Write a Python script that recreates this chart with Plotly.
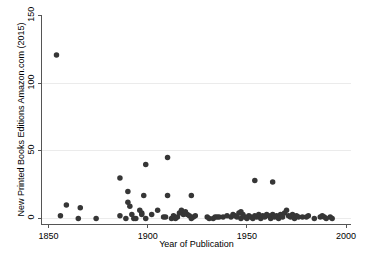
import plotly.graph_objects as go

years = [1854, 1856, 1859, 1865, 1866, 1874, 1886, 1886, 1889, 1890, 1890, 1891, 1892, 1893, 1894,
         1896, 1897, 1897, 1898, 1899, 1899, 1902, 1905, 1908, 1909, 1910, 1910, 1912, 1913, 1914,
         1915, 1916, 1917, 1918, 1919, 1920, 1921, 1922, 1922, 1923, 1924, 1930, 1931, 1933, 1934,
         1935, 1936, 1938, 1940, 1942, 1943, 1944, 1945, 1946, 1947, 1947, 1948, 1949, 1950, 1951,
         1952, 1953, 1954, 1954, 1955, 1956, 1957, 1958, 1959, 1960, 1961, 1962, 1963, 1963, 1964,
         1965, 1966, 1967, 1968, 1969, 1970, 1971, 1972, 1973, 1974, 1975, 1976, 1978, 1980, 1981,
         1984, 1987, 1988, 1989, 1990, 1992, 1993]
editions = [121, 2, 10, 0, 8, 0, 30, 2, 0, 20, 12, 9, 3, 0, 0,
            6, 4, 3, 17, 40, 0, 3, 6, 1, 1, 45, 17, 0, 2, 0,
            1, 4, 6, 3, 5, 3, 2, 17, 0, 1, 2, 1, 0, 0, 1,
            1, 1, 1, 2, 1, 3, 2, 1, 4, 5, 0, 3, 1, 0, 2,
            1, 0, 28, 2, 1, 3, 0, 2, 1, 3, 2, 0, 27, 3, 1,
            2, 0, 3, 1, 4, 6, 2, 1, 3, 0, 2, 1, 1, 1, 2,
            0, 1, 2, 1, 0, 1, 0]

x_ticks = [1850, 1900, 1950, 2000]
y_ticks = [0, 50, 100, 150]

fig = go.Figure()
fig.add_trace(go.Scatter(
    x=years, y=editions, mode="markers",
    marker=dict(size=5.5, color="#363636", line=dict(width=0)),
    showlegend=False,
))

font = dict(family="Liberation Sans, Arial, sans-serif", size=9, color="#000000")

fig.update_layout(
    width=376, height=254,
    margin=dict(l=42, r=25, t=15, b=30, autoexpand=False),
    paper_bgcolor="white", plot_bgcolor="white",
    font=font,
    xaxis=dict(
        range=[1846.7, 2002.5], tickvals=x_ticks, ticktext=[str(v) for v in x_ticks],
        showgrid=False, zeroline=False, automargin=False,
        showline=True, linecolor="#555555", linewidth=1,
        ticks="outside", ticklen=3, tickcolor="#555555", tickwidth=1,
        title=dict(text="Year of Publication", font=font, standoff=0),
        tickfont=font,
    ),
    yaxis=dict(
        range=[-4.1, 150.5], tickvals=y_ticks, ticktext=[str(v) for v in y_ticks],
        tickangle=-90, automargin=False,
        showgrid=True, gridcolor="#ebebeb", gridwidth=1,
        zeroline=False,
        showline=True, linecolor="#555555", linewidth=1,
        ticks="outside", ticklen=3, tickcolor="#555555", tickwidth=1,
        title=dict(text="New Printed Books Editions Amazon.com (2015)", font=font, standoff=0),
        tickfont=font,
    ),
)

fig.write_html(
    "out.html",
    config={"displayModeBar": False},
    post_script="document.body.style.margin='0';document.body.style.padding='0';",
)
